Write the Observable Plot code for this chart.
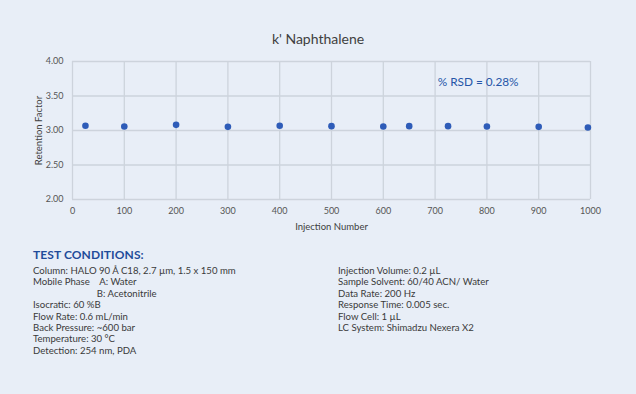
<!DOCTYPE html>
<html>
<head>
<meta charset="utf-8">
<script src="https://cdn.jsdelivr.net/npm/d3@7"></script>
<script src="https://cdn.jsdelivr.net/npm/@observablehq/plot@0.6"></script>
<style>
  html, body { margin: 0; padding: 0; background: #e8eef7; }
  body { width: 636px; height: 394px; position: relative; overflow: hidden; font-family: Lato, "Open Sans", sans-serif; }
  #title { position: absolute; left: 0; width: 636px; top: 30px; text-align: center; font-size: 14px; color: #404040; }
  #chart { position: absolute; left: 0; top: 0; }
  .cond { position: absolute; font-size: 9.6px; line-height: 11.4px; color: #3a3a3a; white-space: pre; }
  #condTitle { position: absolute; left: 33px; top: 247px; font-size: 12px; font-weight: bold; color: #1f4c9a; letter-spacing: 0.1px; }
</style>
</head>
<body>
<div id="chart"></div>
<div id="title"></div>
<div id="condTitle"></div>
<div class="cond" id="condLeft" style="left:33px; top:265px;"></div>
<div class="cond" id="condRight" style="left:338px; top:265px;"></div>
<script>
const chartTitle = "k' Naphthalene";
const injections = [25, 100, 200, 300, 400, 500, 600, 650, 725, 800, 900, 995];
const retention = [3.068, 3.058, 3.082, 3.053, 3.068, 3.063, 3.058, 3.063, 3.063, 3.058, 3.053, 3.043];
const xTicks = [0, 100, 200, 300, 400, 500, 600, 700, 800, 900, 1000];
const yTicks = [2.0, 2.5, 3.0, 3.5, 4.0];
const rsdLabel = ["% RSD = 0.28%"];
const rsdX = [783];
const rsdY = [3.70];
const conditionsTitle = "TEST CONDITIONS:";
const conditionsLeft = [
  "Column: HALO 90 Å C18, 2.7 µm, 1.5 x 150 mm",
  "Mobile Phase    A: Water",
  "                          B: Acetonitrile",
  "Isocratic: 60 %B",
  "Flow Rate: 0.6 mL/min",
  "Back Pressure: ~600 bar",
  "Temperature: 30 °C",
  "Detection: 254 nm, PDA"
];
const conditionsRight = [
  "Injection Volume: 0.2 µL",
  "Sample Solvent: 60/40 ACN/ Water",
  "Data Rate: 200 Hz",
  "Response Time: 0.005 sec.",
  "Flow Cell: 1 µL",
  "LC System: Shimadzu Nexera X2"
];

const data = injections.map((x, i) => ({x, y: retention[i]}));

const plot = Plot.plot({
  width: 636,
  height: 240,
  marginTop: 61,
  marginLeft: 72,
  marginRight: 46,
  marginBottom: 41,
  style: {background: "transparent", fontFamily: "Lato, 'Open Sans', sans-serif", fontSize: "9px", color: "#555"},
  x: {domain: [0, 1000]},
  y: {domain: [2, 4]},
  marks: [
    Plot.gridX(xTicks, {stroke: "#cdd3dc", strokeOpacity: 1, strokeWidth: 1.3}),
    Plot.gridY(yTicks, {stroke: "#cdd3dc", strokeOpacity: 1, strokeWidth: 1.3}),
    Plot.axisX(xTicks, {tickSize: 0, tickPadding: 8, label: null, tickFormat: d3.format("d"), fill: "#555", fontSize: 9}),
    Plot.axisY(yTicks, {tickSize: 0, tickPadding: 9, label: null, tickFormat: d3.format(".2f"), fill: "#555", fontSize: 9}),
    Plot.text(["Injection Number"], {frameAnchor: "bottom", dy: 27, lineAnchor: "middle", textAnchor: "middle", fill: "#404040", fontSize: 9.5}),
    Plot.text(["Retention Factor"], {frameAnchor: "left", dx: -34, rotate: -90, lineAnchor: "middle", textAnchor: "middle", fill: "#404040", fontSize: 9.5}),
    Plot.dot(data, {x: "x", y: "y", r: 3.3, fill: "#2e5cb8", stroke: "none"}),
    Plot.text(rsdLabel, {x: rsdX, y: rsdY, fill: "#2556a8", fontSize: 11.8, lineAnchor: "middle"})
  ]
});
document.getElementById("chart").appendChild(plot);
document.getElementById("title").textContent = chartTitle;
document.getElementById("condTitle").textContent = conditionsTitle;
document.getElementById("condLeft").textContent = conditionsLeft.join("\n");
document.getElementById("condRight").textContent = conditionsRight.join("\n");
</script>
</body>
</html>
